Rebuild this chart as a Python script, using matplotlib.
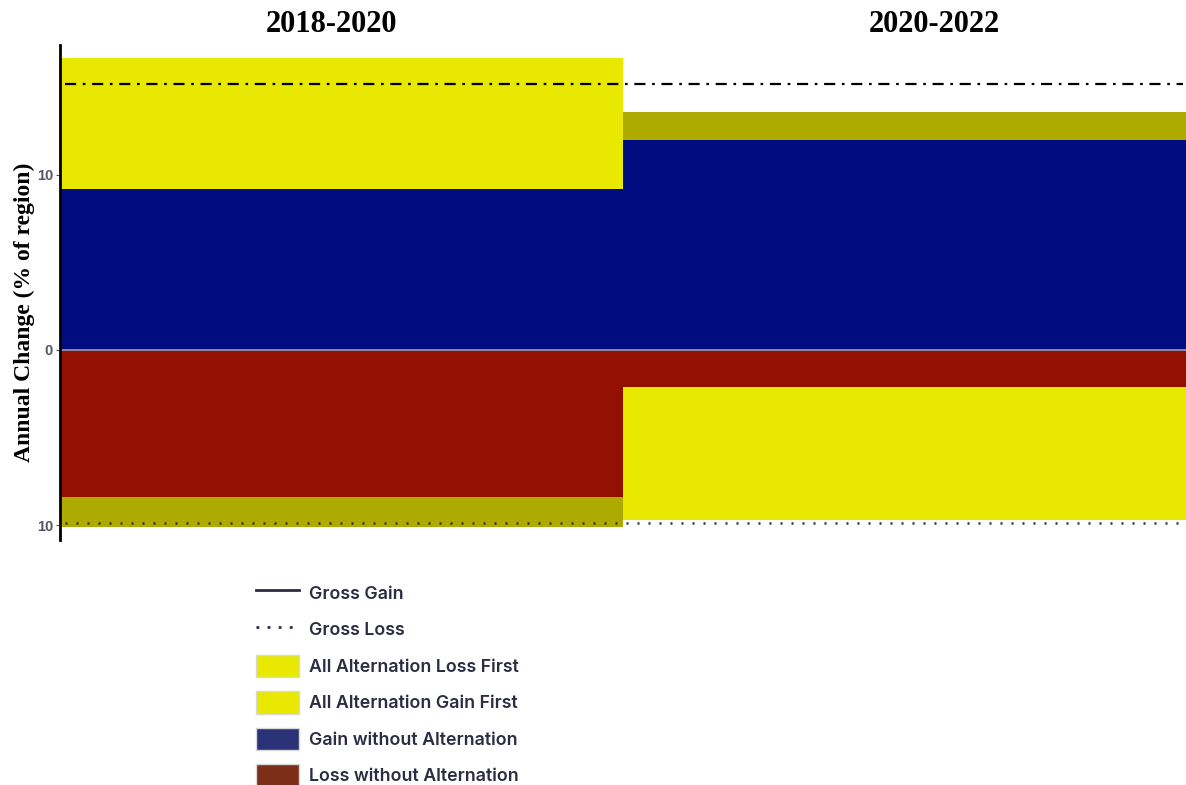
import matplotlib
matplotlib.use("Agg")
import matplotlib.pyplot as plt
from matplotlib.lines import Line2D
from matplotlib.patches import Patch

# two periods, annual change in % of region
periods = ["2018-2020", "2020-2022"]
gain_wo_alt = [9.2, 12.0]      # gain without alternation
gain_alt = [7.5, 1.6]          # alternation stacked on top of gain
loss_wo_alt = [8.4, 2.1]       # loss without alternation
loss_alt = [1.7, 7.6]          # alternation stacked below loss
gain_alt_colors = ["#e8e800", "#adab00"]
loss_alt_colors = ["#adab00", "#e8e800"]
gross_gain = 15.2
gross_loss = -9.87
legend_labels = ["Gross Gain", "Gross Loss", "All Alternation Loss First",
                 "All Alternation Gain First", "Gain without Alternation",
                 "Loss without Alternation"]

BLUE = "#000c80"
RED = "#941003"


def main():
    fig = plt.figure(figsize=(11.86, 7.85), dpi=100)
    ax = fig.add_axes([0.0506, 0.312, 0.9494, 0.631])
    x = list(range(len(periods)))

    ax.bar(x, gain_wo_alt, width=1, align="edge", color=BLUE)
    ax.bar(x, gain_alt, bottom=gain_wo_alt, width=1, align="edge",
           color=gain_alt_colors)
    ax.bar(x, [-v for v in loss_wo_alt], width=1, align="edge", color=RED)
    ax.bar(x, [-v for v in loss_alt], bottom=[-v for v in loss_wo_alt],
           width=1, align="edge", color=loss_alt_colors)

    ax.axhline(0, color="#9a9ab4", lw=1.2)
    ax.axhline(gross_gain, xmin=0.004, xmax=0.997, color="black", lw=1.6,
               ls=(0, (5, 3, 1.2, 3)))
    ax.axhline(gross_loss, xmin=0.004, xmax=0.997, color="#333333", lw=1.8,
               ls=(0, (0.8, 3.6)))

    ax.set_xlim(0, 2)
    ax.set_ylim(-10.86, 17.43)
    ax.set_xticks([])
    ax.set_yticks([-10, 0, 10])
    ax.set_yticklabels(["10", "0", "10"], color="#555566", fontsize=10.5,
                       family="Liberation Sans", fontweight="bold")
    ax.tick_params(axis="y", length=3, width=0.8, color="#555566", pad=2)
    for s in ["top", "right", "bottom"]:
        ax.spines[s].set_visible(False)
    ax.spines["left"].set_linewidth(2)
    ax.spines["left"].set_color("black")

    ax.set_ylabel("Annual Change (% of region)", family="Liberation Serif",
                  fontweight="bold", fontsize=17)
    ax.yaxis.set_label_coords(-0.0222, 0.46)

    fig.text(332 / 1186, 1 - 24 / 785, periods[0], ha="center", va="center",
             family="Liberation Serif", fontweight="bold", fontsize=22)
    fig.text(934 / 1186, 1 - 24 / 785, periods[1], ha="center", va="center",
             family="Liberation Serif", fontweight="bold", fontsize=22)

    handles = [
        Line2D([], [], color="#2b2d42", lw=2),
        Line2D([], [], color="#2b2d42", lw=2, ls=(0, (1, 3))),
        Patch(facecolor="#e8e800", edgecolor="#d8d8d8"),
        Patch(facecolor="#e8e800", edgecolor="#d8d8d8"),
        Patch(facecolor="#2b3378", edgecolor="#d8d8d8"),
        Patch(facecolor="#7b2f16", edgecolor="#d8d8d8"),
    ]
    leg = fig.legend(handles, legend_labels, loc="upper left",
                     bbox_to_anchor=(240 / 1186, 1 - 566 / 785),
                     frameon=False, labelspacing=0.8,
                     handlelength=2.4, handleheight=1.55, handletextpad=0.6,
                     prop={"family": "Inter", "weight": "semibold", "size": 12.8})
    for t in leg.get_texts():
        t.set_color("#2b2d42")

    fig.savefig("out.png", dpi=100)
    plt.close(fig)


if __name__ == "__main__":
    main()
